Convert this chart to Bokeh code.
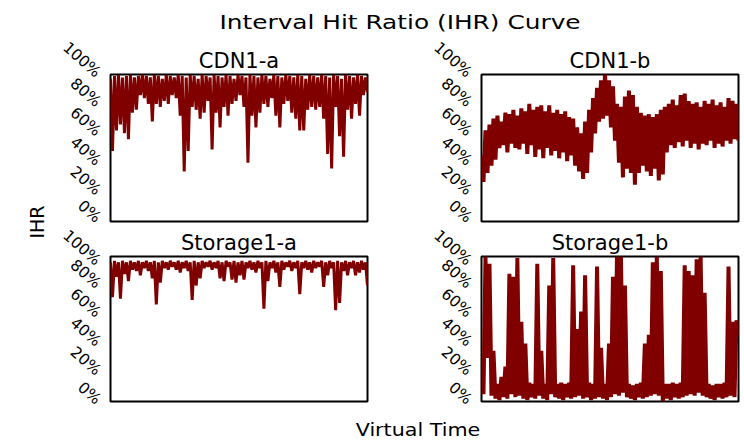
from bokeh.plotting import figure
from bokeh.models import Range1d, FixedTicker, Div
from bokeh.layouts import row, column
from bokeh.embed import file_html
from bokeh.resources import INLINE

# ---------------- data ----------------
main_title = "Interval Hit Ratio (IHR) Curve"
y_label = "IHR"
x_label = "Virtual Time"
panel_titles = ["CDN1-a", "CDN1-b", "Storage1-a", "Storage1-b"]

y_ticks = [0.0, 0.2, 0.4, 0.6, 0.8, 1.0]
y_tick_labels = ["0%", "20%", "40%", "60%", "80%", "100%"]

cdn1_a = [
    0.97, 0.48, 0.99, 0.62, 1.0, 0.66, 0.98, 0.60, 0.99, 0.56, 1.0, 0.74, 0.98, 0.76, 0.99, 0.86,
    1.0, 0.84, 0.99, 0.80, 0.98, 0.68, 1.0, 0.80, 0.99, 0.78, 0.97, 0.82, 1.0, 0.80, 0.99, 0.86,
    0.98, 0.84, 1.0, 0.72, 0.99, 0.34, 0.98, 0.48, 1.0, 0.78, 0.99, 0.76, 0.97, 0.70, 1.0, 0.74,
    0.99, 0.82, 0.98, 0.49, 1.0, 0.74, 0.99, 0.64, 0.98, 0.78, 1.0, 0.72, 0.99, 0.80, 0.97, 0.82,
    1.0, 0.86, 0.99, 0.78, 0.98, 0.40, 1.0, 0.72, 0.99, 0.64, 0.98, 0.74, 1.0, 0.80, 0.99, 0.78,
    0.97, 0.84, 1.0, 0.72, 0.99, 0.64, 0.98, 0.80, 1.0, 0.82, 0.99, 0.74, 0.98, 0.70, 1.0, 0.62,
    0.99, 0.62, 0.97, 0.76, 1.0, 0.78, 0.99, 0.76, 0.98, 0.78, 1.0, 0.70, 0.99, 0.46, 0.98, 0.36,
    1.0, 0.78, 0.99, 0.58, 0.97, 0.44, 1.0, 0.76, 0.99, 0.70, 0.98, 0.80, 1.0, 0.72, 0.99, 0.86,
    0.98, 0.88,
]

cdn1_b = [
    0.45, 0.27, 0.62, 0.33, 0.66, 0.38, 0.70, 0.42, 0.72, 0.50, 0.68, 0.52, 0.74, 0.47, 0.73, 0.53,
    0.76, 0.50, 0.72, 0.49, 0.77, 0.53, 0.75, 0.46, 0.80, 0.52, 0.76, 0.44, 0.78, 0.49, 0.79, 0.43,
    0.75, 0.50, 0.79, 0.45, 0.74, 0.48, 0.76, 0.43, 0.73, 0.47, 0.75, 0.41, 0.71, 0.45, 0.70, 0.38,
    0.64, 0.34, 0.60, 0.29, 0.68, 0.33, 0.76, 0.47, 0.84, 0.60, 0.91, 0.68, 0.96, 0.70, 1.0, 0.72,
    0.96, 0.64, 0.92, 0.55, 0.80, 0.40, 0.78, 0.30, 0.85, 0.36, 0.89, 0.33, 0.86, 0.25, 0.78, 0.33,
    0.74, 0.38, 0.72, 0.34, 0.73, 0.31, 0.71, 0.36, 0.73, 0.28, 0.76, 0.32, 0.78, 0.47, 0.80, 0.52,
    0.83, 0.50, 0.79, 0.54, 0.86, 0.51, 0.87, 0.55, 0.82, 0.50, 0.80, 0.53, 0.81, 0.49, 0.78, 0.53,
    0.82, 0.52, 0.80, 0.55, 0.83, 0.50, 0.79, 0.53, 0.81, 0.51, 0.78, 0.55, 0.84, 0.53, 0.82, 0.56,
    0.80, 0.55,
]

storage1_a = [
    0.96, 0.72, 0.97, 0.86, 0.96, 0.71, 0.97, 0.88, 0.96, 0.83, 0.97, 0.91, 0.96, 0.90, 0.97, 0.87,
    0.96, 0.92, 0.97, 0.90, 0.96, 0.85, 0.97, 0.67, 0.96, 0.82, 0.97, 0.92, 0.96, 0.91, 0.97, 0.93,
    0.96, 0.91, 0.97, 0.89, 0.96, 0.92, 0.97, 0.90, 0.96, 0.70, 0.97, 0.80, 0.96, 0.85, 0.97, 0.92,
    0.96, 0.93, 0.97, 0.91, 0.96, 0.92, 0.97, 0.85, 0.96, 0.83, 0.97, 0.93, 0.96, 0.84, 0.97, 0.82,
    0.96, 0.87, 0.97, 0.84, 0.96, 0.92, 0.97, 0.91, 0.96, 0.89, 0.97, 0.92, 0.96, 0.64, 0.97, 0.83,
    0.96, 0.92, 0.97, 0.89, 0.96, 0.79, 0.97, 0.91, 0.96, 0.93, 0.97, 0.90, 0.96, 0.92, 0.97, 0.74,
    0.96, 0.92, 0.97, 0.91, 0.96, 0.89, 0.97, 0.92, 0.96, 0.93, 0.97, 0.79, 0.96, 0.87, 0.97, 0.92,
    0.96, 0.63, 0.97, 0.68, 0.96, 0.90, 0.97, 0.87, 0.96, 0.92, 0.97, 0.87, 0.96, 0.89, 0.97, 0.91,
    0.96, 0.80,
]

storage1_b = [
    0.29, 0.05, 1.0, 0.30, 0.95, 0.04, 0.35, 0.02, 0.12, 0.01, 0.17, 0.03, 0.24, 0.02, 0.88, 0.05,
    0.86, 0.03, 0.99, 0.04, 0.55, 0.02, 0.40, 0.01, 0.13, 0.03, 0.12, 0.02, 0.95, 0.04, 0.35, 0.02,
    0.12, 0.01, 0.80, 0.05, 0.99, 0.03, 0.12, 0.02, 0.13, 0.01, 0.12, 0.03, 0.13, 0.02, 0.94, 0.03,
    0.50, 0.04, 0.62, 0.02, 0.87, 0.03, 0.13, 0.01, 0.12, 0.02, 0.93, 0.03, 0.37, 0.02, 0.12, 0.01,
    0.40, 0.03, 0.86, 0.05, 1.0, 0.04, 1.0, 0.06, 0.80, 0.03, 0.12, 0.02, 0.11, 0.01, 0.12, 0.03,
    0.13, 0.02, 0.40, 0.03, 0.46, 0.04, 0.96, 0.05, 1.0, 0.04, 0.90, 0.00, 0.12, 0.02, 0.12, 0.01,
    0.13, 0.03, 0.12, 0.02, 0.13, 0.03, 0.94, 0.04, 0.90, 0.05, 0.87, 0.04, 0.98, 0.06, 1.0, 0.04,
    0.75, 0.03, 0.12, 0.02, 0.11, 0.01, 0.12, 0.03, 0.12, 0.02, 0.13, 0.03, 0.93, 0.04, 0.55, 0.03,
    0.56, 0.45,
]

# ---------------- styling ----------------
LINE_COLOR = "#800000"
FONT = "DejaVu Sans"


def make_panel(title, values, lw, b_left, b_right, b_top, b_bottom, fw, fh):
    xs = list(range(len(values)))
    p = figure(
        title=title,
        frame_width=fw,
        frame_height=fh,
        min_border_left=b_left,
        min_border_right=b_right,
        min_border_top=b_top,
        min_border_bottom=b_bottom,
        x_range=Range1d(0, len(values) - 1),
        y_range=Range1d(0, 1.0),
        output_backend="svg",
        toolbar_location=None,
        tools="",
    )
    p.line(xs, values, line_color=LINE_COLOR, line_width=lw)
    p.xaxis.visible = False
    p.grid.visible = False
    p.outline_line_color = "black"
    p.outline_line_width = 2
    p.outline_line_alpha = 1.0
    ax = p.yaxis[0]
    ax.ticker = FixedTicker(ticks=y_ticks)
    ax.major_label_overrides = {t: s for t, s in zip(y_ticks, y_tick_labels)}
    ax.axis_line_color = None
    ax.major_tick_line_color = None
    ax.minor_tick_line_color = None
    ax.major_label_orientation = -0.72
    ax.major_label_text_font = FONT
    ax.major_label_text_font_size = "15.5px"
    ax.major_label_text_color = "black"
    ax.major_label_standoff = 6
    p.title.text_font = FONT
    p.title.text_font_size = "21px"
    p.title.text_font_style = "normal"
    p.title.text_color = "black"
    p.title.align = "center"
    p.title.standoff = 4
    p.background_fill_color = "white"
    p.border_fill_color = "white"
    return p


# frames: left column x 109..366, right column x 480..737; rows y 74..221 and 256..401
f1 = make_panel(panel_titles[0], cdn1_a, 3, 59, 10, 36, 5, 257, 147)
f2 = make_panel(panel_titles[1], cdn1_b, 4, 104, 5, 36, 5, 257, 147)
f3 = make_panel(panel_titles[2], storage1_a, 3, 59, 10, 30, 10, 257, 145)
f4 = make_panel(panel_titles[3], storage1_b, 4, 104, 5, 30, 10, 257, 145)

TOTAL_W = 742
span_css = ("position:absolute; white-space:nowrap; font-family:'DejaVu Sans'; color:black; "
            "line-height:1; ")

title_div = Div(
    text=(f'<div style="position:relative; width:{TOTAL_W}px; height:38px; overflow:hidden;">'
          f'<span style="{span_css} font-size:20px; left:400px; top:22px; '
          f'transform:translate(-50%,-50%) scaleX(1.24);">{main_title}</span></div>'),
    width=TOTAL_W, height=38, margin=(0, 0, 0, 0),
)

grid_h = (36 + 147 + 5) + (30 + 145 + 10)
ylab_div = Div(
    text=(f'<div style="position:relative; width:50px; height:{grid_h}px; overflow:hidden;">'
          f'<span style="{span_css} font-size:19px; left:37px; top:184px; '
          f'transform:translate(-50%,-50%) rotate(-90deg);">{y_label}</span></div>'),
    width=50, height=grid_h, margin=(0, 0, 0, 0),
)

xlab_div = Div(
    text=(f'<div style="position:relative; width:{TOTAL_W}px; height:30px; overflow:hidden;">'
          f'<span style="{span_css} font-size:17.5px; left:418px; top:20px; '
          f'transform:translate(-50%,-50%) scaleX(1.18);">{x_label}</span></div>'),
    width=TOTAL_W, height=30, margin=(0, 0, 0, 0),
)

grid = column(row(f1, f2), row(f3, f4))
layout = column(title_div, row(ylab_div, grid), xlab_div)

open("out.html", "w").write(file_html(layout, INLINE))
